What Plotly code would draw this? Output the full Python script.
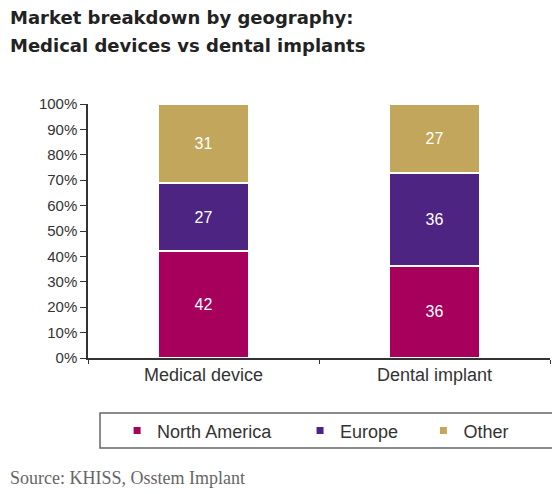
import plotly.graph_objects as go

categories = ["Medical device", "Dental implant"]
north_america = [42, 36]
europe = [27, 36]
other = [31, 27]
series_names = ["North America", "Europe", "Other"]
y_ticks = [0, 10, 20, 30, 40, 50, 60, 70, 80, 90, 100]
title_lines = ["Market breakdown by geography:", "Medical devices vs dental implants"]
source_text = "Source: KHISS, Osstem Implant"

colors = ["#A6005C", "#4E2483", "#C2A65B"]
series = [north_america, europe, other]
legend_ids = ["legend", "legend2", "legend3"]
legend_x = [0.063, 0.459, 0.726]

fig = go.Figure()
for name, vals, col, lg in zip(series_names, series, colors, legend_ids):
    fig.add_trace(
        go.Bar(
            x=categories,
            y=vals,
            name=name,
            text=vals,
            texttemplate="%{text}",
            textposition="inside",
            insidetextanchor="middle",
            textfont=dict(family="Arial", size=16, color="white"),
            marker=dict(color=col, line=dict(color="white", width=2)),
            width=0.39,
            showlegend=False,
        )
    )
    # small square legend markers like the original
    fig.add_trace(
        go.Scatter(
            x=[None],
            y=[None],
            mode="markers",
            name=name,
            legend=lg,
            marker=dict(symbol="square", size=7, color=col),
        )
    )

legend_style = dict(
    orientation="h",
    xanchor="left",
    y=-0.287,
    yanchor="middle",
    font=dict(family="Arial", size=18, color="#333333"),
    bgcolor="rgba(0,0,0,0)",
    borderwidth=0,
)

title_font = dict(family="DejaVu Sans", size=18, color="#222222", weight="bold")

# page body adds an 8px offset, so the figure is a bit smaller than the window
fig.update_layout(
    barmode="stack",
    barnorm="percent",
    width=552,
    height=486,
    margin=dict(l=80, r=10, t=96, b=136, autoexpand=False),
    paper_bgcolor="white",
    plot_bgcolor="white",
    font=dict(family="Arial", size=15, color="#333333"),
    showlegend=True,
    legend=dict(x=legend_x[0], **legend_style),
    legend2=dict(x=legend_x[1], **legend_style),
    legend3=dict(x=legend_x[2], **legend_style),
    annotations=[
        dict(
            text=title_lines[0],
            xref="paper",
            yref="paper",
            x=-0.173,
            y=1.339,
            xanchor="left",
            yanchor="middle",
            showarrow=False,
            font=title_font,
        ),
        dict(
            text=title_lines[1],
            xref="paper",
            yref="paper",
            x=-0.173,
            y=1.232,
            xanchor="left",
            yanchor="middle",
            showarrow=False,
            font=title_font,
        ),
        dict(
            text=source_text,
            xref="paper",
            yref="paper",
            x=-0.173,
            y=-0.472,
            xanchor="left",
            yanchor="middle",
            showarrow=False,
            font=dict(family="Liberation Serif", size=18, color="#666666"),
        ),
    ],
    shapes=[
        dict(
            type="rect",
            xref="paper",
            yref="paper",
            x0=0.026,
            x1=1.011,
            y0=-0.354,
            y1=-0.217,
            line=dict(color="#666666", width=1.5),
        )
    ],
)

fig.update_yaxes(
    range=[0, 100],
    tickvals=y_ticks,
    ticktext=[f"{v}%" for v in y_ticks],
    showgrid=False,
    showline=True,
    linecolor="#333333",
    linewidth=1.5,
    ticks="outside",
    ticklen=6,
    tickcolor="#333333",
    zeroline=False,
)
fig.update_xaxes(
    showgrid=False,
    showline=True,
    linecolor="#333333",
    linewidth=1.5,
    ticks="outside",
    tickson="boundaries",
    ticklen=4,
    tickcolor="#333333",
    tickfont=dict(family="Arial", size=18, color="#333333"),
)

fig.write_html("out.html")
